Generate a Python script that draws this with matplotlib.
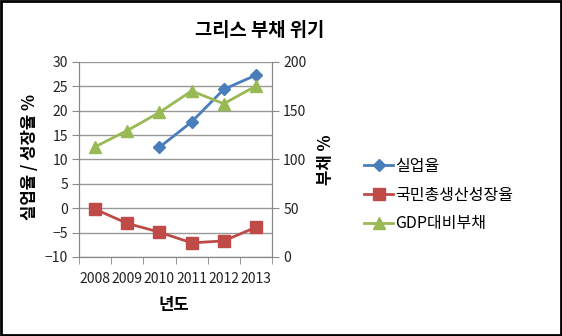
import matplotlib
matplotlib.use("Agg")
import matplotlib.pyplot as plt
from matplotlib.lines import Line2D
from matplotlib.patches import Rectangle
import numpy as np

plt.rcParams['font.family'] = ['Noto Sans CJK KR', 'DejaVu Sans']

years = ['2008', '2009', '2010', '2011', '2012', '2013']
unemployment = [None, None, 12.5, 17.7, 24.4, 27.3]
gdp_growth = [-0.2, -3.1, -4.9, -7.1, -6.7, -3.9]
debt_ratio = [113.0, 129.7, 148.3, 170.3, 157.2, 175.4]

title = '그리스 부채 위기'
names = ['실업율', '국민총생산성장율', 'GDP대비부채']
colors = ['#4A7EBB', '#BE4B48', '#98B954']

fig = plt.figure(figsize=(5.62, 3.36), dpi=100)
ax = fig.add_axes([79/562, 1-257/336, (272-79)/562, (257-62)/336])
ax2 = ax.twinx()

x = np.arange(len(years))
u = np.array([np.nan if v is None else v for v in unemployment])

ax.plot(x, u, color=colors[0], lw=2.0, marker='D', ms=6, zorder=4)
ax.plot(x, gdp_growth, color=colors[1], lw=2.0, marker='s', ms=8, zorder=4)
ax2.plot(x, debt_ratio, color=colors[2], lw=2.0, marker='^', ms=9, zorder=4)

ax.set_xlim(-0.5, len(years)-0.5)
ax.set_ylim(-10, 30)
ax.set_yticks(np.arange(-10, 31, 5))
ax2.set_ylim(0, 200)
ax2.set_yticks(np.arange(0, 201, 50))

ax.set_xticks(x)
ax.set_xticklabels(years)
ax.set_xticks(np.arange(-0.5, len(years), 1), minor=True)
ax.tick_params(axis='x', which='major', length=0, pad=11, labelsize=10, colors='#222222')
ax.tick_params(axis='x', which='minor', length=5, color='#888888')
ax.tick_params(axis='y', length=5, color='#888888', labelsize=10, labelcolor='#222222', pad=3)
ax2.tick_params(axis='y', length=5, color='#888888', labelsize=10, labelcolor='#222222', pad=3)

ax.grid(axis='y', color='#999999', lw=1.0)
ax.set_axisbelow(True)
for a in (ax, ax2):
    a.spines['top'].set_visible(False)
    for s in ['left', 'right', 'bottom']:
        a.spines[s].set_color('#888888')

fig.text(260/562, 1-30/336, title, ha='center', va='center', fontsize=13.5, fontweight='bold')
fig.text(30/562, 1-157/336, '실업율 / 성장율 %', rotation=90, ha='center', va='center', fontsize=12, fontweight='bold')
fig.text(326/562, 1-160/336, '부채 %', rotation=90, ha='center', va='center', fontsize=12, fontweight='bold')
fig.text(174/562, 1-305/336, '년도', ha='center', va='center', fontsize=12, fontweight='bold')

handles = [
    Line2D([], [], color=colors[0], lw=2.0, marker='D', ms=6),
    Line2D([], [], color=colors[1], lw=2.0, marker='s', ms=8),
    Line2D([], [], color=colors[2], lw=2.0, marker='^', ms=9),
]
fig.legend(handles, names, loc='center left', bbox_to_anchor=(350/562, 1-195/336),
           frameon=False, fontsize=11.5, handlelength=1.8, handletextpad=0.15, labelspacing=0.75)

fig.patches.append(Rectangle((0.002, 0.003), 0.996, 0.994, transform=fig.transFigure,
                             fill=False, edgecolor='black', lw=2))

fig.savefig('out.png', dpi=100)
